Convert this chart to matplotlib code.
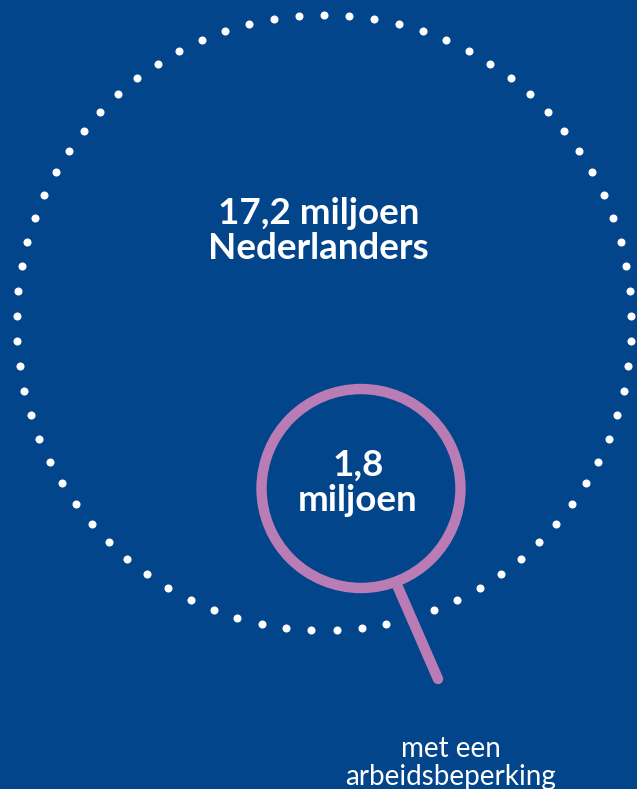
import matplotlib
matplotlib.use("Agg")
import matplotlib.pyplot as plt
from matplotlib.patches import Circle
import numpy as np

# data
totals = [17.2, 1.8]          # miljoen
labels = ["17,2 miljoen\nNederlanders", "1,8\nmiljoen"]
caption = "met een\narbeidsbeperking"
n_dots = 77

BG = "#03458A"
PURPLE = "#B97CB5"


def main():
    fig = plt.figure(figsize=(6.37, 7.89), dpi=100, facecolor=BG)
    ax = fig.add_axes([0, 0, 1, 1])
    ax.set_facecolor(BG)
    ax.set_xlim(0, 637)
    ax.set_ylim(789, 0)
    ax.set_aspect("equal")
    ax.axis("off")

    # big dotted circle for the whole population
    cx, cy, R = 324, 322.5, 307.5
    ang = np.pi / 2 + np.arange(n_dots) * 2 * np.pi / n_dots
    ax.plot(cx + R * np.cos(ang), cy - R * np.sin(ang), "o", color="white",
            markersize=5.8, markeredgewidth=0, zorder=2)

    # magnifying glass, area scaled to the share
    r = R * np.sqrt(totals[1] / totals[0])
    lx, ly = 361, 488.5
    ax.add_patch(Circle((lx, ly), r, facecolor=BG, edgecolor=PURPLE,
                        lw=7.5, zorder=4))
    ax.plot([397, 438], [585, 679], color=PURPLE, lw=7.5,
            solid_capstyle="round", zorder=3)

    ax.text(318.5, 231, labels[0], color="white", fontsize=26.5, family="Lato",
            fontweight="bold", ha="center", va="center", linespacing=1.1, zorder=5)
    ax.text(358, 483, labels[1], color="white", fontsize=26.5, family="Lato",
            fontweight="bold", ha="center", va="center", linespacing=1.1, zorder=5)
    ax.text(451, 763, caption, color="white", fontsize=20, family="Lato",
            ha="center", va="center", linespacing=1.05, zorder=5)

    fig.savefig("out.png", dpi=100, facecolor=BG)


if __name__ == "__main__":
    main()
